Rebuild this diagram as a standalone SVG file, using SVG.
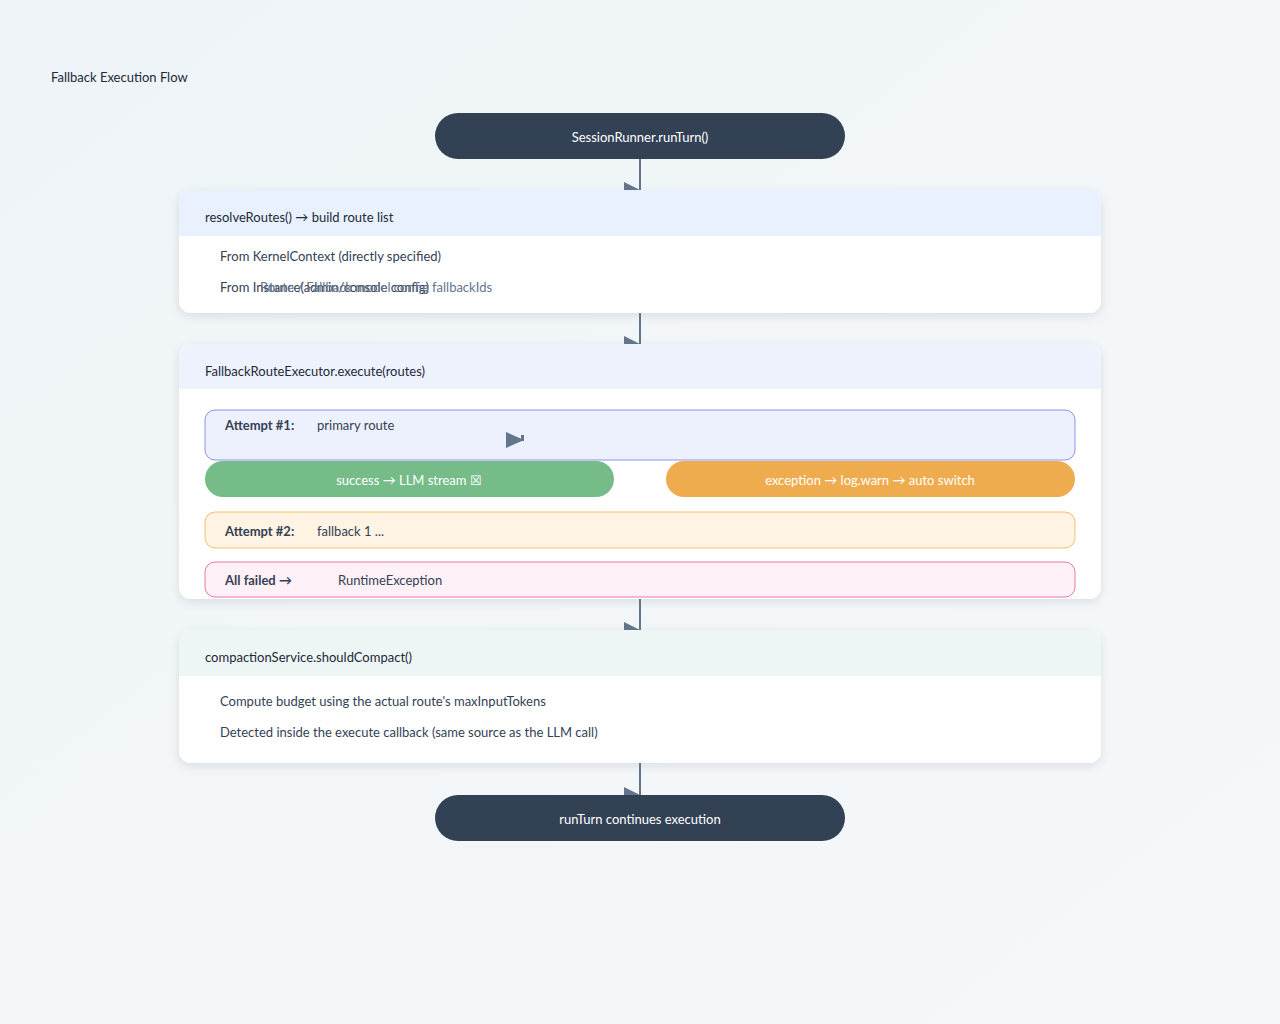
<svg xmlns="http://www.w3.org/2000/svg" width="1280" height="1024" viewBox="0 0 1280 1024">
<defs>
<linearGradient id="bg" x1="0" y1="0" x2="1" y2="1">
<stop offset="0" stop-color="#eef4f7"/>
<stop offset="1" stop-color="#f5f8fa"/>
</linearGradient>
<filter id="sh" x="-10%" y="-20%" width="120%" height="150%">
<feDropShadow dx="0" dy="3" stdDeviation="5" flood-color="#0f172a" flood-opacity="0.10"/>
</filter>
<clipPath id="c1"><rect x="179" y="190" width="922" height="123" rx="12"/></clipPath>
<clipPath id="c2"><rect x="179" y="344" width="922" height="255" rx="12"/></clipPath>
<clipPath id="c3"><rect x="179" y="630" width="922" height="133" rx="12"/></clipPath>
</defs>
<style>
text{font-family:"Lato","Liberation Sans",sans-serif;font-size:13px}
.t{fill:#1e293b}
.b{fill:#334155}
.g{fill:#64748b}
.w{fill:#ffffff}
.bold{font-weight:700;fill:#334155}
.mid{text-anchor:middle}
.card{fill:#ffffff;filter:url(#sh)}
.pill{fill:#334155}
.conn{stroke:#64748b;stroke-width:2;fill:none}
.head{fill:#64748b}
</style>
<rect width="1280" height="1024" fill="url(#bg)"/>
<text x="51" y="82" class="t">Fallback Execution Flow</text>

<g id="start">
<rect x="435" y="113" width="410" height="46" rx="23" class="pill"/>
<text x="640" y="142" class="w mid">SessionRunner.runTurn()</text>
</g>

<g id="resolveRoutes">
<rect x="179" y="190" width="922" height="123" rx="12" class="card"/>
<rect x="179" y="190" width="922" height="46" fill="#e8f1fd" clip-path="url(#c1)"/>
<text x="205" y="222" class="t">resolveRoutes() → build route list</text>
<text x="220" y="261" class="b">From KernelContext (directly specified)</text>
<text x="220" y="292" class="b">From Instance(admin/console config)</text>
<text x="260" y="292" class="g">Route / Fallback model config fallbackIds</text>
</g>

<g id="executor">
<rect x="179" y="344" width="922" height="255" rx="12" class="card"/>
<rect x="179" y="344" width="922" height="45" fill="#eef2fd" clip-path="url(#c2)"/>
<text x="205" y="376" class="t">FallbackRouteExecutor.execute(routes)</text>
</g>

<g id="attempt1">
<rect x="205" y="410" width="870" height="50" rx="10" fill="#edf1fd" stroke="#8b93f0" stroke-width="1"/>
<text x="225" y="430" class="bold">Attempt #1:</text>
<text x="317" y="430" class="b">primary route</text>
<polygon points="506,432 524,440 506,448" class="head"/>
<rect x="521" y="435" width="3" height="6" class="head"/>
</g>

<g id="success">
<rect x="205" y="461" width="409" height="36" rx="18" fill="#76bc88"/>
<text x="409" y="485" class="w mid">success → LLM stream ☒</text>
</g>

<g id="exception">
<rect x="666" y="461" width="409" height="36" rx="18" fill="#efac4e"/>
<text x="870" y="485" class="w mid">exception → log.warn → auto switch</text>
</g>

<g id="attempt2">
<rect x="205" y="512" width="870" height="36" rx="10" fill="#fff3e3" stroke="#f5c06a" stroke-width="1"/>
<text x="225" y="536" class="bold">Attempt #2:</text>
<text x="317" y="536" class="b">fallback 1 ...</text>
</g>

<g id="allFailed">
<rect x="205" y="562" width="870" height="35" rx="10" fill="#fdf0f6" stroke="#e879a9" stroke-width="1"/>
<text x="225" y="585" class="bold">All failed →</text>
<text x="338" y="585" class="b">RuntimeException</text>
</g>

<g id="compaction">
<rect x="179" y="630" width="922" height="133" rx="12" class="card"/>
<rect x="179" y="630" width="922" height="46" fill="#edf6f4" clip-path="url(#c3)"/>
<text x="205" y="662" class="t">compactionService.shouldCompact()</text>
<text x="220" y="706" class="b">Compute budget using the actual route's maxInputTokens</text>
<text x="220" y="737" class="b">Detected inside the execute callback (same source as the LLM call)</text>
</g>

<g id="end">
<rect x="435" y="795" width="410" height="46" rx="23" class="pill"/>
<text x="640" y="824" class="w mid">runTurn continues execution</text>
</g>

<g id="connectors">
<line x1="640" y1="159" x2="640" y2="190" class="conn"/>
<polygon points="624,182 640,190 624,190" class="head"/>
<line x1="640" y1="313" x2="640" y2="344" class="conn"/>
<polygon points="624,336 640,344 624,344" class="head"/>
<line x1="640" y1="599" x2="640" y2="630" class="conn"/>
<polygon points="624,622 640,630 624,630" class="head"/>
<line x1="640" y1="763" x2="640" y2="795" class="conn"/>
<polygon points="624,787 640,795 624,795" class="head"/>
</g>
</svg>
